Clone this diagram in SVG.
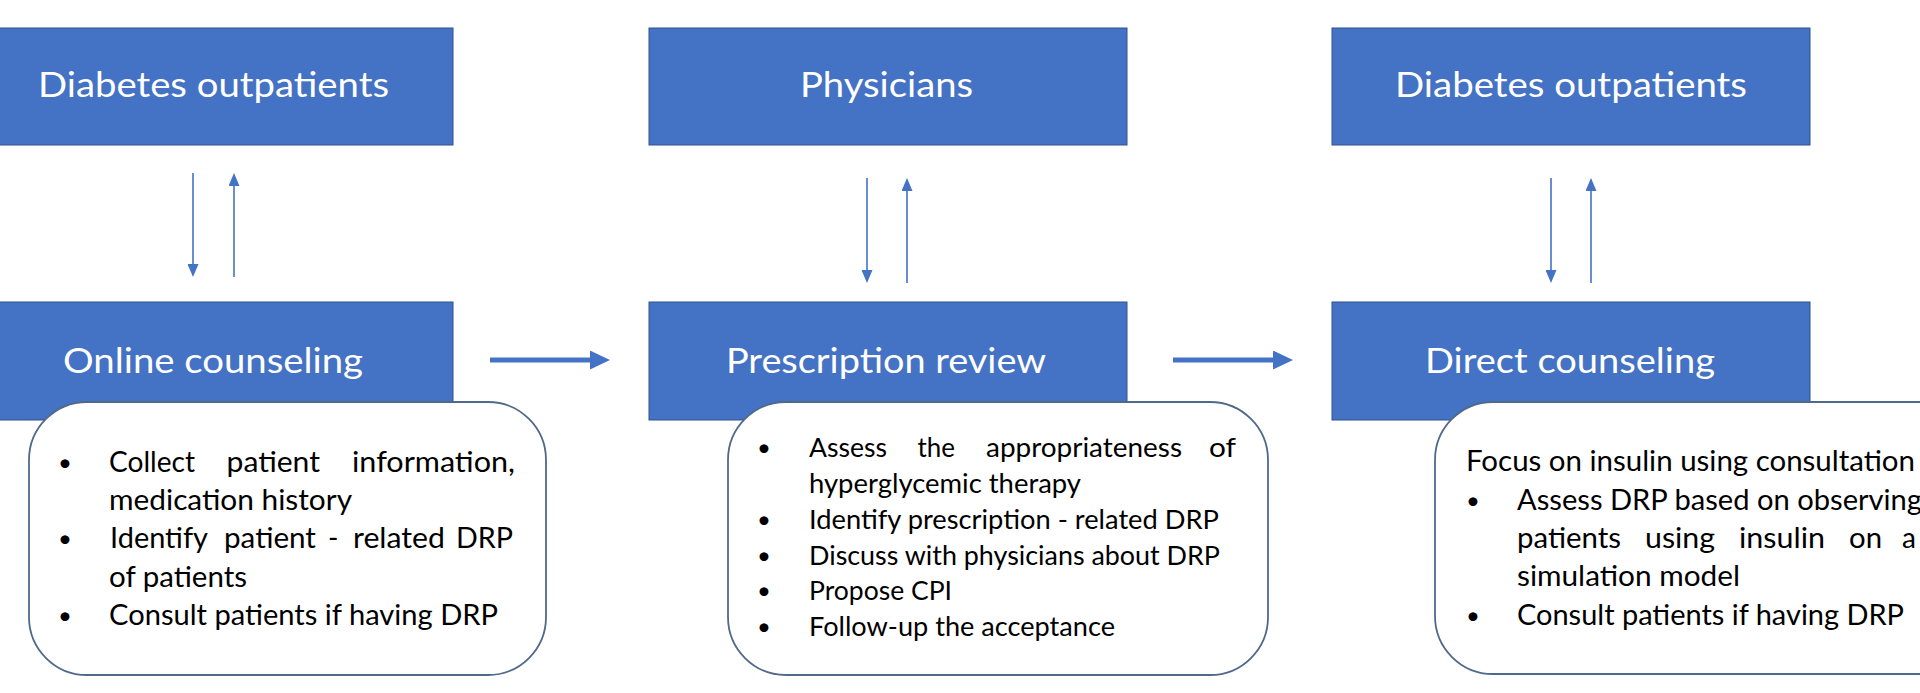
<svg xmlns="http://www.w3.org/2000/svg" width="1920" height="693" viewBox="0 0 1920 693">
<defs>
<style>
.blue{fill:#4472C4;stroke:#2F528F;stroke-width:1}
.card{fill:#fff;stroke:#50698A;stroke-width:1.8}
.h{font-family:Lato,'Liberation Sans',sans-serif;font-size:35px;fill:#fff}
.t{font-family:Lato,'Liberation Sans',sans-serif;font-size:28px;fill:#000}
.s{font-size:26.5px}
.b{font-family:Lato,'Liberation Sans',sans-serif;font-size:24px;fill:#000}
.thin{stroke:#4472C4;stroke-width:1.6;fill:none}
.thick{stroke:#4472C4;stroke-width:5;fill:none}
</style>
<marker id="ah" markerUnits="userSpaceOnUse" markerWidth="13" markerHeight="11" refX="7" refY="5.5" orient="auto"><path d="M0,0L13,5.5L0,11z" fill="#4472C4"/></marker>
<marker id="ahb" markerUnits="userSpaceOnUse" markerWidth="20" markerHeight="19" refX="10" refY="9.5" orient="auto"><path d="M0,0L20,9.5L0,19z" fill="#4472C4"/></marker>
</defs>
<rect width="1920" height="693" fill="#fff"/>

<g id="top1">
<rect class="blue" x="-25" y="28" width="478" height="117"/>
<text class="h" x="38" y="97" textLength="351" lengthAdjust="spacingAndGlyphs">Diabetes outpatients</text>
</g>
<g id="top2">
<rect class="blue" x="649" y="28" width="478" height="117"/>
<text class="h" x="800" y="97" textLength="173" lengthAdjust="spacingAndGlyphs">Physicians</text>
</g>
<g id="top3">
<rect class="blue" x="1332" y="28" width="478" height="117"/>
<text class="h" x="1395" y="97" textLength="352" lengthAdjust="spacingAndGlyphs">Diabetes outpatients</text>
</g>

<g id="online">
<rect class="blue" x="-25" y="302" width="478" height="118"/>
<text class="h" x="63" y="373" textLength="300" lengthAdjust="spacingAndGlyphs">Online counseling</text>
</g>
<g id="review">
<rect class="blue" x="649" y="302" width="478" height="118"/>
<text class="h" x="726" y="373" textLength="320" lengthAdjust="spacingAndGlyphs">Prescription review</text>
</g>
<g id="direct">
<rect class="blue" x="1332" y="302" width="478" height="118"/>
<text class="h" x="1425" y="373" textLength="290" lengthAdjust="spacingAndGlyphs">Direct counseling</text>
</g>

<g id="card1">
<rect class="card" x="29" y="402" width="517" height="273" rx="58" ry="58"/>
<text class="b" x="58" y="471">•</text>
<text class="t" x="109" y="472" textLength="86" lengthAdjust="spacingAndGlyphs">Collect</text>
<text class="t" x="226.5" y="472" textLength="93.5" lengthAdjust="spacingAndGlyphs">patient</text>
<text class="t" x="352" y="472" textLength="163" lengthAdjust="spacingAndGlyphs">information,</text>
<text class="t" x="109" y="510" textLength="243" lengthAdjust="spacingAndGlyphs">medication history</text>
<text class="b" x="58" y="547">•</text>
<text class="t" x="110" y="548" textLength="98" lengthAdjust="spacingAndGlyphs">Identify</text>
<text class="t" x="224" y="548" textLength="92" lengthAdjust="spacingAndGlyphs">patient</text>
<text class="t" x="328" y="548">-</text>
<text class="t" x="353" y="548" textLength="92" lengthAdjust="spacingAndGlyphs">related</text>
<text class="t" x="456" y="548" textLength="57" lengthAdjust="spacingAndGlyphs">DRP</text>
<text class="t" x="109" y="587" textLength="138" lengthAdjust="spacingAndGlyphs">of patients</text>
<text class="b" x="58" y="624">•</text>
<text class="t" x="109" y="625" textLength="389" lengthAdjust="spacingAndGlyphs">Consult patients if having DRP</text>
</g>

<g id="card2">
<rect class="card" x="728" y="402" width="540" height="273" rx="58" ry="58"/>
<text class="b" x="757" y="456">•</text>
<text class="t s" x="809" y="457" textLength="78" lengthAdjust="spacingAndGlyphs">Assess</text>
<text class="t s" x="917.5" y="457" textLength="37.5" lengthAdjust="spacingAndGlyphs">the</text>
<text class="t s" x="986" y="457" textLength="196" lengthAdjust="spacingAndGlyphs">appropriateness</text>
<text class="t s" x="1209" y="457" textLength="27" lengthAdjust="spacingAndGlyphs">of</text>
<text class="t s" x="809" y="493" textLength="272" lengthAdjust="spacingAndGlyphs">hyperglycemic therapy</text>
<text class="b" x="757" y="528">•</text>
<text class="t s" x="809" y="529" textLength="410" lengthAdjust="spacingAndGlyphs">Identify prescription - related DRP</text>
<text class="b" x="757" y="564">•</text>
<text class="t s" x="809" y="565" textLength="411" lengthAdjust="spacingAndGlyphs">Discuss with physicians about DRP</text>
<text class="b" x="757" y="599">•</text>
<text class="t s" x="809" y="600" textLength="143" lengthAdjust="spacingAndGlyphs">Propose CPI</text>
<text class="b" x="757" y="635">•</text>
<text class="t s" x="809" y="636" textLength="306" lengthAdjust="spacingAndGlyphs">Follow-up the acceptance</text>
</g>

<g id="card3">
<rect class="card" x="1435" y="402" width="545" height="272" rx="58" ry="58"/>
<text class="t" x="1466" y="471" textLength="449" lengthAdjust="spacingAndGlyphs">Focus on insulin using consultation</text>
<text class="b" x="1466" y="509">•</text>
<text class="t" x="1517" y="510" textLength="405" lengthAdjust="spacingAndGlyphs">Assess DRP based on observing</text>
<text class="t" x="1517" y="548" textLength="104" lengthAdjust="spacingAndGlyphs">patients</text>
<text class="t" x="1645" y="548" textLength="70" lengthAdjust="spacingAndGlyphs">using</text>
<text class="t" x="1739" y="548" textLength="86" lengthAdjust="spacingAndGlyphs">insulin</text>
<text class="t" x="1849" y="548" textLength="33" lengthAdjust="spacingAndGlyphs">on</text>
<text class="t" x="1902" y="548">a</text>
<text class="t" x="1517" y="586" textLength="223" lengthAdjust="spacingAndGlyphs">simulation model</text>
<text class="b" x="1466" y="624">•</text>
<text class="t" x="1517" y="625" textLength="387" lengthAdjust="spacingAndGlyphs">Consult patients if having DRP</text>
</g>

<g id="connectors">
<line class="thin" x1="193" y1="173" x2="193" y2="271" marker-end="url(#ah)"/>
<line class="thin" x1="234" y1="277" x2="234" y2="179" marker-end="url(#ah)"/>
<line class="thin" x1="867" y1="178" x2="867" y2="277" marker-end="url(#ah)"/>
<line class="thin" x1="907" y1="283" x2="907" y2="184" marker-end="url(#ah)"/>
<line class="thin" x1="1551" y1="178" x2="1551" y2="277" marker-end="url(#ah)"/>
<line class="thin" x1="1591" y1="283" x2="1591" y2="184" marker-end="url(#ah)"/>
<line class="thick" x1="490" y1="360" x2="600" y2="360" marker-end="url(#ahb)"/>
<line class="thick" x1="1173" y1="360" x2="1283" y2="360" marker-end="url(#ahb)"/>
</g>
</svg>
